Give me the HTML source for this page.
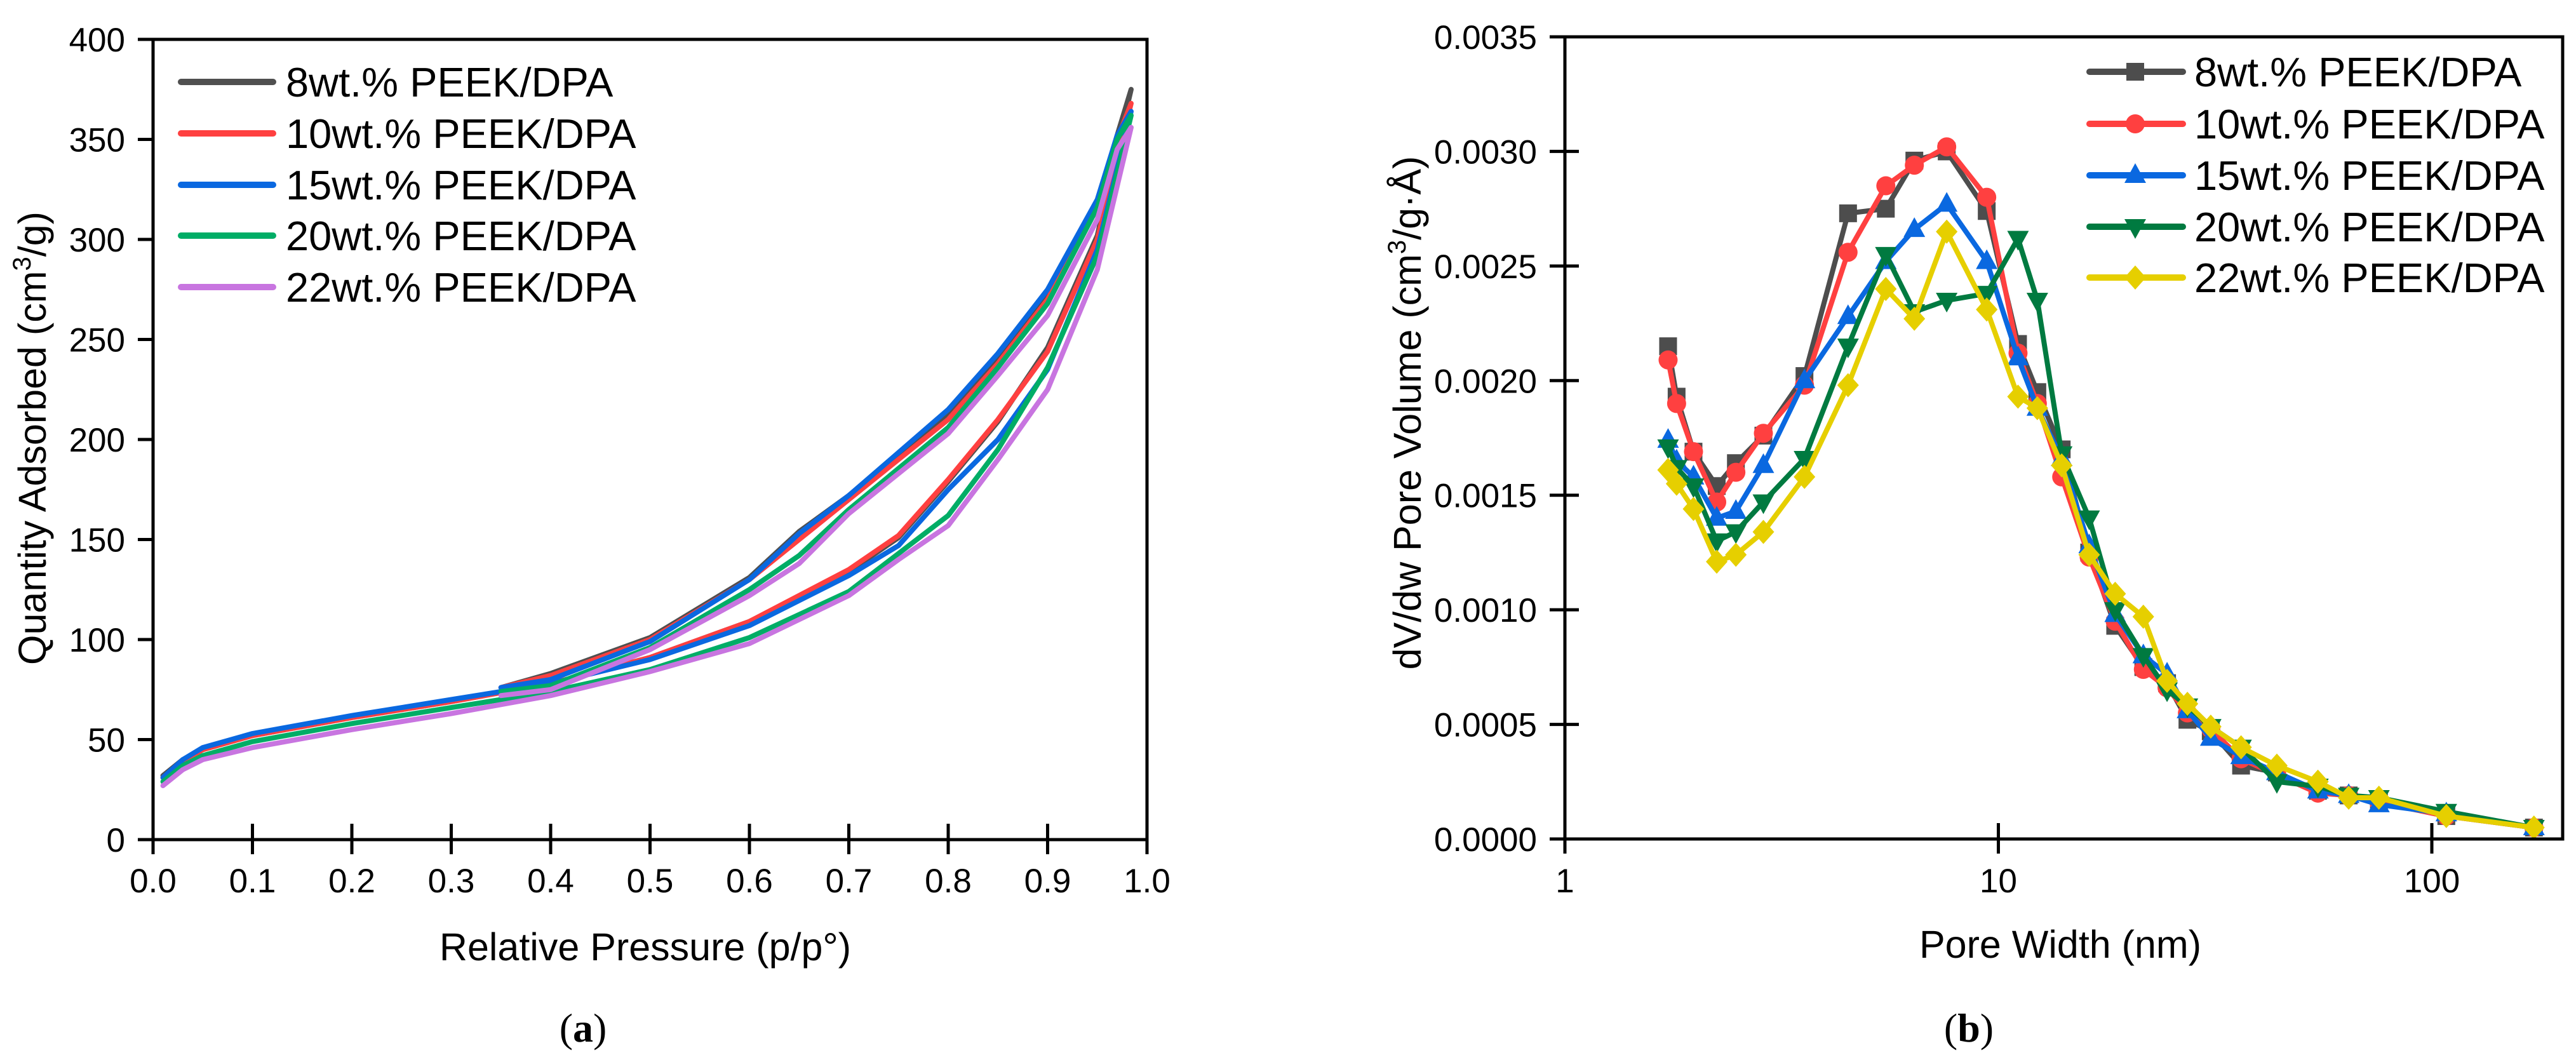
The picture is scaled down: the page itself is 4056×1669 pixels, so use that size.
<!DOCTYPE html>
<html><head><meta charset="utf-8"><style>
html,body{margin:0;padding:0;background:#fff;}
svg{display:block;font-family:"Liberation Sans",Arial,sans-serif;}
</style></head><body>
<svg id="fig" width="4056" height="1669" viewBox="0 0 4056 1669" xmlns="http://www.w3.org/2000/svg">
<g id="panelA"></g>
<g id="panelB"></g>
</svg>
<script>
// ---------- Panel (a) data ----------
const seriesNames = ["8wt.% PEEK/DPA","10wt.% PEEK/DPA","15wt.% PEEK/DPA","20wt.% PEEK/DPA","22wt.% PEEK/DPA"];
const pAds = [0.01,0.03,0.05,0.1,0.2,0.3,0.4,0.5,0.6,0.7,0.75,0.8,0.85,0.9,0.95,0.984];
const pDes = [0.984,0.97,0.95,0.9,0.85,0.8,0.7,0.65,0.6,0.5,0.4,0.35];
const qAds8  = [32,40,45,52,61,69,78,91,109,134,151,179,209,246,302,375];
const qDes8  = [375,352,318,272,240,212,172,154,131,101,83,76];
const qAds10 = [31,39,45,52,61,69,78,91,109,135,152,180,210,244,300,368];
const qDes10 = [368,350,316,270,238,210,170,150,130,100,82,76];
const qAds15 = [31,40,46,53,62,70,78,90,107,132,147,175,200,235,295,364];
const qDes15 = [364,352,320,275,243,215,172,153,130,99,80,76];
const qAds20 = [29,37,42,49,58,66,74,85,101,124,143,162,195,236,292,362];
const qDes20 = [362,350,316,268,236,206,165,142,125,96,77,74];
const qAds22 = [27,35,40,46,55,63,72,84,98,122,140,157,190,225,285,356];
const qDes22 = [356,345,310,262,232,203,163,138,122,95,75,72];
const xTicksA = [0,0.1,0.2,0.3,0.4,0.5,0.6,0.7,0.8,0.9,1.0];
const yTicksA = [0,50,100,150,200,250,300,350,400];

// ---------- Panel (b) data ----------
const poreWidth = [1.73,1.81,1.98,2.24,2.48,2.87,3.57,4.5,5.5,6.4,7.6,9.4,11.1,12.3,14.0,16.2,18.6,21.6,24.5,27.3,30.9,36.3,43.9,54.6,64.3,75.5,108,172];
const dv8  = [2.15,1.93,1.69,1.54,1.64,1.76,2.02,2.73,2.75,2.96,3.00,2.74,2.16,1.95,1.70,1.25,0.93,0.75,0.68,0.52,0.47,0.32,0.29,0.21,0.19,0.16,0.10,0.05];
const dv10 = [2.09,1.90,1.69,1.47,1.60,1.77,1.98,2.56,2.85,2.94,3.02,2.80,2.12,1.90,1.58,1.23,0.95,0.74,0.66,0.55,0.48,0.35,0.28,0.20,0.19,0.16,0.10,0.05];
const dv15 = [1.74,1.65,1.58,1.40,1.43,1.63,2.00,2.28,2.52,2.66,2.77,2.52,2.10,1.88,1.66,1.28,0.98,0.80,0.72,0.56,0.44,0.36,0.29,0.21,0.19,0.15,0.11,0.05];
const dv20 = [1.71,1.62,1.54,1.30,1.34,1.47,1.66,2.15,2.55,2.30,2.35,2.38,2.62,2.35,1.68,1.40,1.00,0.80,0.65,0.58,0.49,0.40,0.25,0.23,0.19,0.18,0.12,0.05];
const dv22 = [1.61,1.55,1.44,1.21,1.24,1.34,1.58,1.98,2.40,2.27,2.65,2.31,1.93,1.88,1.63,1.24,1.07,0.97,0.69,0.59,0.49,0.40,0.32,0.25,0.18,0.18,0.10,0.05];
const xTicksB = [1,10,100];
const yTicksB = [0,0.5,1.0,1.5,2.0,2.5,3.0,3.5]; // x10^-3

const NS="http://www.w3.org/2000/svg";
function mk(tag, attrs, parent){const e=document.createElementNS(NS,tag);for(const k in attrs)e.setAttribute(k,attrs[k]);parent.appendChild(e);return e;}

// ===== Panel A =====
const A=document.getElementById('panelA');
const ax0=241, ax1=1806, ay0=1322, ay1=62;
const XA=p=>ax0+p*(ax1-ax0);
const YA=q=>ay0-q/400*(ay0-ay1);
const colA=["#505050","#ff4040","#0a68e0","#00ad66","#c875e0"];
const adsA=[qAds8,qAds10,qAds15,qAds20,qAds22];
const desA=[qDes8,qDes10,qDes15,qDes20,qDes22];
for(let s=0;s<5;s++){
  let pts=[];
  pAds.forEach((p,i)=>pts.push(XA(p).toFixed(1)+","+YA(adsA[s][i]).toFixed(1)));
  pDes.forEach((p,i)=>pts.push(XA(p).toFixed(1)+","+YA(desA[s][i]).toFixed(1)));
  const pl=mk('polyline',{points:pts.join(" "),fill:"none",stroke:colA[s],"stroke-width":8,"stroke-linejoin":"round","stroke-linecap":"round"},A);
  
  
}
const frA=mk('rect',{x:ax0,y:ay1,width:ax1-ax0,height:ay0-ay1,fill:"none",stroke:"#000","stroke-width":5},A);


xTicksA.forEach(t=>{
  const x=XA(t);
  mk('line',{x1:x,y1:ay0-25,x2:x,y2:ay0+23,stroke:"#000","stroke-width":5},A);
  const tx=mk('text',{x:x,y:1405,"font-size":53,"text-anchor":"middle"},A);
  tx.textContent=t.toFixed(1);
  
  
});
yTicksA.forEach(t=>{
  const y=YA(t);
  mk('line',{x1:ax0-24,y1:y,x2:ax0,y2:y,stroke:"#000","stroke-width":5},A);
  const tx=mk('text',{x:197,y:y+19,"font-size":53,"text-anchor":"end"},A);
  tx.textContent=String(t);
  
  
});
// legend A
const legRows=[129,210,291,371,452];
for(let s=0;s<5;s++){
  const y=legRows[s];
  mk('line',{x1:285,y1:y,x2:430,y2:y,stroke:colA[s],"stroke-width":10,"stroke-linecap":"round"},A);
  const tx=mk('text',{x:450,y:y+23,"font-size":65},A);
  tx.textContent=seriesNames[s];
  
  
}
// titles A
const ytA=mk('text',{x:0,y:0,"font-size":61,"text-anchor":"middle",transform:"translate(72,690) rotate(-90)"},A);
ytA.innerHTML='Quantity Adsorbed (cm<tspan font-size="40" dy="-24">3</tspan><tspan dy="24">/g)</tspan>';


const xtA=mk('text',{x:1016,y:1512,"font-size":61,"text-anchor":"middle"},A);
xtA.textContent='Relative Pressure (p/p°)';


const capA=mk('text',{x:918,y:1640,"font-size":64,"text-anchor":"middle","font-family":"Liberation Serif, serif"},A);
capA.innerHTML='(<tspan font-weight="bold">a</tspan>)';



// ===== Panel B =====
const B=document.getElementById('panelB');
const bx0=2464, bx1=4035, by0=1321, by1=58;
const dec=682.5;
const XB=w=>bx0+Math.log10(w)*dec;
const YB=v=>by0-v/3.5*(by0-by1);
const colB=["#4d4d4d","#ff4040","#0a68e0","#007a40","#e6cf00"];
const dvB=[dv8,dv10,dv15,dv20,dv22];
function marker(kind,x,y,c,parent){
  let e;
  if(kind===0) e=mk('rect',{x:x-14,y:y-14,width:28,height:28,fill:c},parent);
  else if(kind===1) e=mk('circle',{cx:x,cy:y,r:15,fill:c},parent);
  else if(kind===2) e=mk('polygon',{points:`${x},${y-19} ${x+17},${y+12} ${x-17},${y+12}`,fill:c},parent);
  else if(kind===3) e=mk('polygon',{points:`${x},${y+19} ${x+17},${y-12} ${x-17},${y-12}`,fill:c},parent);
  else e=mk('polygon',{points:`${x},${y-19} ${x+17},${y} ${x},${y+19} ${x-17},${y}`,fill:c},parent);
  return e;
}
for(let s=0;s<5;s++){
  const pts=poreWidth.map((w,i)=>XB(w).toFixed(1)+","+YB(dvB[s][i]).toFixed(1));
  const pl=mk('polyline',{points:pts.join(" "),fill:"none",stroke:colB[s],"stroke-width":8,"stroke-linejoin":"round"},B);
  
  
  poreWidth.forEach((w,i)=>{
    const m=marker(s,XB(w),YB(dvB[s][i]),colB[s],B);
    
    
  });
}
mk('rect',{x:bx0,y:by1,width:bx1-bx0,height:by0-by1,fill:"none",stroke:"#000","stroke-width":5},B);
xTicksB.forEach(t=>{
  const x=XB(t);
  mk('line',{x1:x,y1:by0-25,x2:x,y2:by0+23,stroke:"#000","stroke-width":5},B);
  const tx=mk('text',{x:x,y:1405,"font-size":53,"text-anchor":"middle"},B);
  tx.textContent=String(t);
  
  
});
yTicksB.forEach(t=>{
  const y=YB(t);
  mk('line',{x1:bx0-24,y1:y,x2:bx0+22,y2:y,stroke:"#000","stroke-width":5},B);
  const tx=mk('text',{x:2420,y:y+19,"font-size":53,"text-anchor":"end"},B);
  tx.textContent=(t/1000).toFixed(4);
  
  
});
const legRowsB=[113,195,276,357,437];
for(let s=0;s<5;s++){
  const y=legRowsB[s];
  mk('line',{x1:3290,y1:y,x2:3437,y2:y,stroke:colB[s],"stroke-width":10,"stroke-linecap":"round"},B);
  marker(s,3362,y,colB[s],B);
  const tx=mk('text',{x:3455,y:y+23,"font-size":65},B);
  tx.textContent=seriesNames[s];
  
  
}
const ytB=mk('text',{x:0,y:0,"font-size":61,"text-anchor":"middle",transform:"translate(2237,650) rotate(-90)"},B);
ytB.innerHTML='dV/dw Pore Volume (cm<tspan font-size="40" dy="-24">3</tspan><tspan dy="24">/g·Å)</tspan>';


const xtB=mk('text',{x:3244,y:1508,"font-size":61,"text-anchor":"middle"},B);
xtB.textContent='Pore Width (nm)';


const capB=mk('text',{x:3100,y:1640,"font-size":64,"text-anchor":"middle","font-family":"Liberation Serif, serif"},B);
capB.innerHTML='(<tspan font-weight="bold">b</tspan>)';


</script>
</body></html>
